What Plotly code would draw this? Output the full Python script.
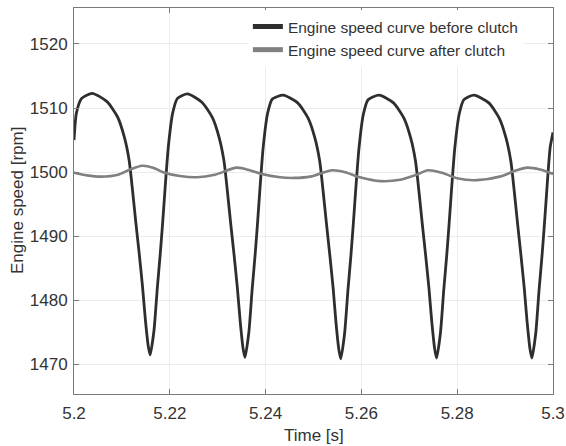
import plotly.graph_objects as go

# Engine speed before clutch (time [s], speed [rpm])
t_before = [
    5.2000, 5.2005, 5.2016,
    5.2038, 5.2069, 5.2091, 5.2105, 5.2115, 5.2122, 5.2129, 5.2136, 5.2143, 5.2149, 5.2155,
    5.2159, 5.2167, 5.2174, 5.2180, 5.2185, 5.2190, 5.2197, 5.2206, 5.2216,
    5.2237, 5.2267, 5.2289, 5.2303, 5.2313, 5.2320, 5.2327, 5.2334, 5.2341, 5.2347, 5.2353,
    5.2357, 5.2365, 5.2372, 5.2378, 5.2383, 5.2388, 5.2395, 5.2404, 5.2414,
    5.2437, 5.2467, 5.2489, 5.2503, 5.2513, 5.2520, 5.2527, 5.2534, 5.2541, 5.2547, 5.2553,
    5.2557, 5.2565, 5.2572, 5.2578, 5.2583, 5.2588, 5.2595, 5.2604, 5.2614,
    5.2637, 5.2667, 5.2689, 5.2703, 5.2713, 5.2720, 5.2727, 5.2734, 5.2741, 5.2747, 5.2753,
    5.2757, 5.2765, 5.2772, 5.2778, 5.2783, 5.2788, 5.2795, 5.2804, 5.2814,
    5.2835, 5.2866, 5.2888, 5.2902, 5.2912, 5.2919, 5.2926, 5.2933, 5.2940, 5.2946, 5.2952,
    5.2956, 5.2964, 5.2971, 5.2977, 5.2982, 5.2987, 5.2994, 5.3000,
]
speed_before = [
    1505.0, 1509.2, 1511.5,
    1512.3, 1511.0, 1508.6, 1505.5, 1501.9, 1497.3, 1492.2, 1487.4, 1482.2, 1477.0, 1472.9,
    1471.5, 1475.3, 1482.0, 1487.2, 1492.0, 1497.3, 1504.0, 1509.2, 1511.5,
    1512.2, 1510.9, 1508.5, 1505.4, 1501.8, 1497.2, 1492.1, 1487.2, 1482.0, 1476.7, 1472.5,
    1471.1, 1475.0, 1481.8, 1487.0, 1491.9, 1497.2, 1503.9, 1509.1, 1511.4,
    1512.0, 1510.8, 1508.4, 1505.3, 1501.7, 1497.1, 1492.0, 1487.1, 1481.9, 1476.5, 1472.3,
    1470.9, 1474.9, 1481.7, 1486.9, 1491.8, 1497.1, 1503.8, 1509.0, 1511.3,
    1512.0, 1510.8, 1508.4, 1505.3, 1501.7, 1497.1, 1492.0, 1487.1, 1481.9, 1476.6, 1472.4,
    1471.0, 1474.9, 1481.7, 1486.9, 1491.8, 1497.1, 1503.8, 1509.0, 1511.3,
    1512.0, 1510.8, 1508.4, 1505.3, 1501.7, 1497.1, 1492.0, 1487.1, 1481.9, 1476.6, 1472.4,
    1471.0, 1474.9, 1481.7, 1486.9, 1491.8, 1497.1, 1503.8, 1506.2,
]

# Engine speed after clutch
t_after = [
    5.2000, 5.2027, 5.2056, 5.2092, 5.2117, 5.2142, 5.2165, 5.2186, 5.2221, 5.2257,
    5.2294, 5.2340, 5.2367, 5.2392, 5.2430, 5.2459, 5.2493, 5.2539, 5.2566, 5.2597,
    5.2639, 5.2681, 5.2712, 5.2739, 5.2768, 5.2802, 5.2841, 5.2889, 5.2921, 5.2946,
    5.2973, 5.3000,
]
speed_after = [
    1499.9, 1499.5, 1499.3, 1499.6, 1500.4, 1501.0, 1500.7, 1500.0, 1499.4, 1499.2,
    1499.6, 1500.7, 1500.3, 1499.7, 1499.2, 1499.1, 1499.3, 1500.3, 1500.0, 1499.2,
    1498.6, 1498.8, 1499.5, 1500.3, 1499.9, 1499.0, 1498.75, 1499.3, 1500.2, 1500.7,
    1500.4, 1499.7,
]

x_ticks = [5.2, 5.22, 5.24, 5.26, 5.28, 5.3]
x_tick_text = ["5.2", "5.22", "5.24", "5.26", "5.28", "5.3"]
y_ticks = [1470, 1480, 1490, 1500, 1510, 1520]

names = ["Engine speed curve before clutch", "Engine speed curve after clutch"]
x_title = "Time [s]"
y_title = "Engine speed [rpm]"

fig = go.Figure()
fig.add_trace(go.Scatter(x=t_before, y=speed_before, mode="lines", name=names[0],
                         line=dict(color="#2e2e2e", width=2.8, shape="spline", smoothing=0.6)))
fig.add_trace(go.Scatter(x=t_after, y=speed_after, mode="lines", name=names[1],
                         line=dict(color="#808080", width=2.6, shape="spline", smoothing=0.8)))

font_family = "Liberation Sans, Arial, sans-serif"
axis_common = dict(
    showline=True, linecolor="#7a7a7a", linewidth=1, mirror="ticks",
    ticks="inside", ticklen=5, tickcolor="#7a7a7a", tickwidth=1,
    showgrid=True, gridcolor="#ececec", gridwidth=1, zeroline=False,
    automargin=False,
    tickfont=dict(family=font_family, size=17, color="#333333"),
)

fig.update_layout(
    width=566, height=446,
    margin=dict(l=74, r=13, t=8, b=52, autoexpand=False),
    paper_bgcolor="white", plot_bgcolor="white",
    font=dict(family=font_family, size=17, color="#333333"),
    showlegend=True,
    legend=dict(x=0.363, y=0.995, xanchor="left", yanchor="top",
                bgcolor="white", borderwidth=0,
                font=dict(family=font_family, size=15.5, color="#333333"),
                tracegroupgap=0, itemsizing="constant"),
    xaxis=dict(range=[5.2, 5.3], tickvals=x_ticks, ticktext=x_tick_text,
               ticklabelstandoff=4, **axis_common),
    yaxis=dict(range=[1465.4, 1525.6], tickvals=y_ticks,
               ticklabelstandoff=2, **axis_common),
    annotations=[
        dict(text=x_title, xref="paper", yref="paper", x=0.5, y=0, yshift=-41,
             xanchor="center", yanchor="middle", showarrow=False,
             font=dict(family=font_family, size=17, color="#333333")),
        dict(text=y_title, xref="paper", yref="paper", x=0, y=0.5, xshift=-57,
             xanchor="center", yanchor="middle", showarrow=False, textangle=-90,
             font=dict(family=font_family, size=17, color="#333333")),
    ],
)

fig.write_html("out.html", config={"displayModeBar": False},
               post_script="document.body.style.margin='0';")
